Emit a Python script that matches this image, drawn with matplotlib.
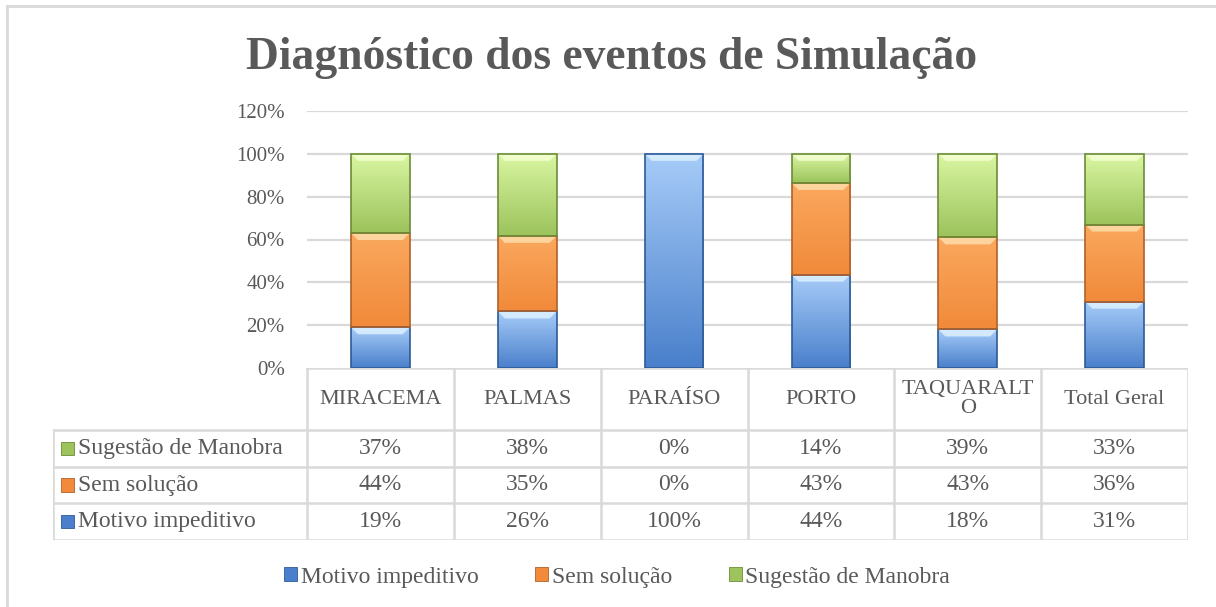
import matplotlib
matplotlib.use("Agg")
import matplotlib.pyplot as plt
import numpy as np
from matplotlib.colors import LinearSegmentedColormap
from matplotlib.patches import Rectangle, Polygon
from matplotlib.lines import Line2D

# data (one decimal)
categories = ["MIRACEMA", "PALMAS", "PARAÍSO", "PORTO", "TAQUARALTO", "Total Geral"]
motivo = [19.0, 26.4, 100.0, 43.6, 18.0, 31.0]
sem_solucao = [44.0, 35.3, 0.0, 42.8, 43.0, 36.0]
sugestao = [37.0, 38.3, 0.0, 13.6, 39.0, 33.0]
series_names = ["Motivo impeditivo", "Sem solução", "Sugestão de Manobra"]
yticks = [0, 20, 40, 60, 80, 100, 120]
title = "Diagnóstico dos eventos de Simulação"

# (top colour, bottom colour, edge, highlight)
styles = [
    ("#A6CBF8", "#4A80CB", "#2E5A96", "#DDF0FF"),
    ("#FAA85E", "#F18A3A", "#B0612A", "#FFDDAA"),
    ("#DAF6A2", "#9CC35C", "#6B8C38", "#F4FFD2"),
]

W, H = 1216, 607
TXT = "#595959"
GRID = "#D9D9D9"
FS = 17
plt.rcParams["font.family"] = ["Liberation Serif", "DejaVu Serif"]

fig = plt.figure(figsize=(W / 100, H / 100), dpi=100)

# outer frame (left and top edge only visible)
fig.add_artist(Line2D([7 / W, 7 / W], [0, 1 - 6 / H], color=GRID, lw=2))
fig.add_artist(Line2D([7 / W, 1], [1 - 6 / H, 1 - 6 / H], color=GRID, lw=2))

fig.text(612 / W, 1 - 58 / H, title, ha="center", va="center",
         fontsize=32.8, fontweight="bold", color=TXT)

# bar area
x0, x1 = 307, 1188
y_top, y_zero = 111, 368
ax = fig.add_axes([x0 / W, 1 - y_zero / H, (x1 - x0) / W, (y_zero - y_top) / H])
for v in yticks[1:]:
    ax.axhline(v, color=GRID, lw=1.6, zorder=0)
for s in ax.spines.values():
    s.set_visible(False)
ax.set_xticks([])
ax.set_yticks(yticks)
ax.set_yticklabels([f"{v}%" for v in yticks], fontsize=15, color=TXT)
ax.tick_params(axis="y", length=0, pad=16)

bw = 0.4
px_y = 120 / (y_zero - y_top)
px_x = len(categories) / (x1 - x0)
stack = [motivo, sem_solucao, sugestao]
bottom = np.zeros(len(categories))
for vals, (ctop, cbot, cedge, chi) in zip(stack, styles):
    cmap = LinearSegmentedColormap.from_list("g", [cbot, ctop])
    grad = np.linspace(1, 0, 64).reshape(-1, 1)
    for i, v in enumerate(vals):
        if v <= 0:
            continue
        b = bottom[i]
        left, right = i - bw / 2, i + bw / 2
        ax.imshow(grad, cmap=cmap, extent=(left, right, b, b + v),
                  aspect="auto", zorder=2, interpolation="bilinear")
        bev = 7 * px_y
        inset = 7 * px_x
        ax.add_patch(Polygon([(left, b + v), (right, b + v),
                              (right - inset, b + v - bev), (left + inset, b + v - bev)],
                             closed=True, facecolor=chi, edgecolor="none", alpha=0.85, zorder=3))
        ax.add_patch(Rectangle((left, b), bw, v, facecolor="none",
                               edgecolor=cedge, lw=1.2, zorder=4))
    bottom += np.array(vals)
ax.set_xlim(-0.5, len(categories) - 0.5)
ax.set_ylim(0, 120)

# data table
tl, tr = 53, 1188
row_h = (540 - 430) / 3
head_top = 368
tab = fig.add_axes([tl / W, 1 - 540 / H, (tr - tl) / W, (540 - head_top) / H])
col_w = (x1 - x0) / len(categories)
lab_w = (x0 - tl) / col_w
head_h = (430 - head_top) / row_h
tab.set_xlim(-lab_w, len(categories))
tab.set_ylim(0, 3 + head_h)
tab.axis("off")
lk = dict(color=GRID, lw=1.8)
for yy in [0, 1, 2, 3]:
    tab.plot([-lab_w, len(categories)], [yy, yy], **lk)
tab.plot([0, len(categories)], [3 + head_h, 3 + head_h], **lk)
tab.plot([-lab_w, -lab_w], [0, 3], **lk)
for c in range(len(categories) + 1):
    tab.plot([c, c], [0, 3 + head_h], **lk)


def wrap(name, n=9):
    # a single long word breaks onto a second line, like in the cell
    if " " in name or len(name) <= n:
        return name
    return name[:n] + "\n" + name[n:]


for c, name in enumerate(categories):
    tab.text(c + 0.5, 3 + head_h / 2, wrap(name), ha="center", va="center",
             fontsize=16, color=TXT, linespacing=0.95)

rows = [(sugestao, series_names[2], styles[2]),
        (sem_solucao, series_names[1], styles[1]),
        (motivo, series_names[0], styles[0])]
for r, (vals, name, st) in enumerate(rows):
    yc = 3 - r - 0.5
    sq = 13 / col_w
    tab.add_patch(Rectangle((-lab_w + 8 / col_w, yc - 0.18), sq, 0.36,
                            facecolor=st[1], edgecolor=st[2], lw=0.6))
    tab.text(-lab_w + 25 / col_w, yc, name, ha="left", va="center",
             fontsize=FS, color=TXT)
    for c, v in enumerate(vals):
        tab.text(c + 0.5, yc, f"{round(v)}%", ha="center", va="center",
                 fontsize=FS, color=TXT)

# legend
handles = [Rectangle((0, 0), 1, 1, facecolor=st[1], edgecolor=st[2], lw=0.6)
           for st in styles]
fig.legend(handles, series_names, loc="center", bbox_to_anchor=(617 / W, 1 - 577 / H),
           ncol=3, frameon=False, fontsize=FS, handlelength=0.55, handleheight=0.55,
           handletextpad=0.15, columnspacing=2.4, labelcolor=TXT)

fig.savefig("out.png", dpi=100)
